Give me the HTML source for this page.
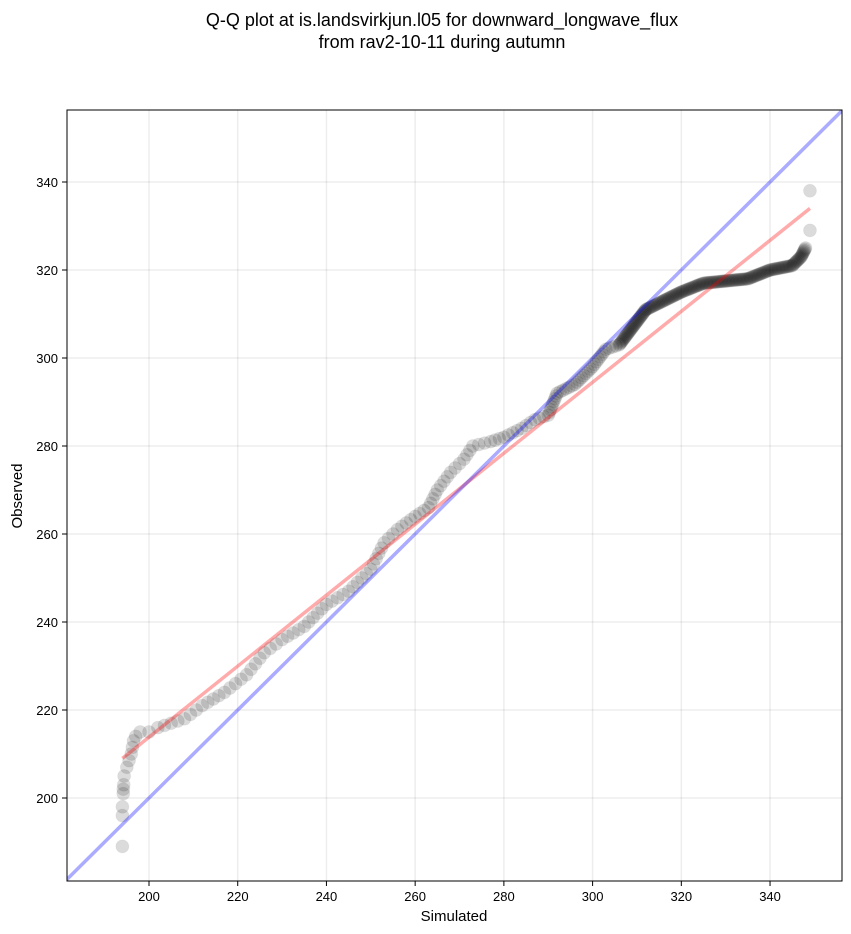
<!DOCTYPE html>
<html><head><meta charset="utf-8"><style>
body{margin:0;background:#fff;}
svg{display:block;font-family:"Liberation Sans","DejaVu Sans",sans-serif;}
</style></head><body>
<svg id="s" width="851" height="934" xmlns="http://www.w3.org/2000/svg">
<rect width="851" height="934" fill="#fff"/>
<text x="442" y="26" font-size="18" text-anchor="middle">Q-Q plot at is.landsvirkjun.l05 for downward_longwave_flux</text>
<text x="442" y="48" font-size="18" text-anchor="middle">from rav2-10-11 during autumn</text>
<defs><clipPath id="c"><rect x="67" y="110" width="775" height="771"/></clipPath></defs>
<g id="grid" stroke="#000" stroke-opacity="0.07" stroke-width="1.5"></g>
<g id="pts" clip-path="url(#c)"></g>
<g id="lines" clip-path="url(#c)"></g>
<rect x="67" y="110" width="775" height="771" fill="none" stroke="#000" stroke-width="1"/>
<g id="ticks" font-size="13"></g>
<text x="454" y="921" font-size="15" text-anchor="middle">Simulated</text>
<text x="22" y="496" font-size="15" text-anchor="middle" transform="rotate(-90 22 496)">Observed</text>
</svg>
<script>
const X=v=>149+(v-200)*4.436, Y=v=>798-(v-200)*4.4;
const ns="http://www.w3.org/2000/svg";
function el(p,t,a){const e=document.createElementNS(ns,t);for(const k in a)e.setAttribute(k,a[k]);document.getElementById(p).appendChild(e);return e;}
for(let v=200;v<=340;v+=20){
 el("grid","line",{x1:X(v),x2:X(v),y1:110,y2:881});
 el("grid","line",{x1:67,x2:842,y1:Y(v),y2:Y(v)});
 el("ticks","line",{x1:X(v),x2:X(v),y1:881,y2:886,stroke:"#000"});
 el("ticks","line",{x1:62,x2:67,y1:Y(v),y2:Y(v),stroke:"#000"});
 el("ticks","text",{x:X(v),y:901,"text-anchor":"middle"}).textContent=v;
 el("ticks","text",{x:58,y:Y(v)+5,"text-anchor":"end"}).textContent=v;
}
const k=[[195,207],[196,210],[196.5,213],[197,214],[198,215],[200,215],[202,216],[205,217],[208,218],[212,221],[217,224],[222,228],[226,233],[230,236],[235,239],[240,244],[245,247],[250,252],[253,258],[256,261],[260,264],[263,266],[265,270],[268,274],[271,277],[273,280],[277,281],[280,282],[284,284],[287,286],[290,287],[292,292],[296,294],[300,298],[303,302],[306,303],[309,307],[312,311],[316,313],[320,315],[325,317],[335,318],[340,320],[345,321],[347,323],[348,325]];
const pts=[[194,189],[194,196],[194,198],[194.2,201],[194.2,202],[194.3,203],[194.4,205],[349,329],[349,338]];
for(let i=0;i<k.length-1;i++){const a=k[i],b=k[i+1];const d=a[0]<250?0.65:a[0]<290?0.8:(a[0]<305?1.4:3.2);const n=Math.max(1,Math.round(Math.hypot(b[0]-a[0],b[1]-a[1])*d));
 for(let j=0;j<n;j++){const t=j/n;pts.push([a[0]+(b[0]-a[0])*t,a[1]+(b[1]-a[1])*t]);}}
pts.push(k[k.length-1]);
for(const p of pts)el("pts","circle",{cx:X(p[0]),cy:Y(p[1]),r:6.5,fill:"#000","fill-opacity":0.14,stroke:"#000","stroke-opacity":0.04});
el("lines","line",{x1:X(194),y1:Y(209),x2:X(349),y2:Y(334),stroke:"#f00","stroke-opacity":0.33,"stroke-width":3.5});
el("lines","line",{x1:X(170),y1:Y(170),x2:X(370),y2:Y(370),stroke:"#00f","stroke-opacity":0.33,"stroke-width":3.5});
</script>
</body></html>
